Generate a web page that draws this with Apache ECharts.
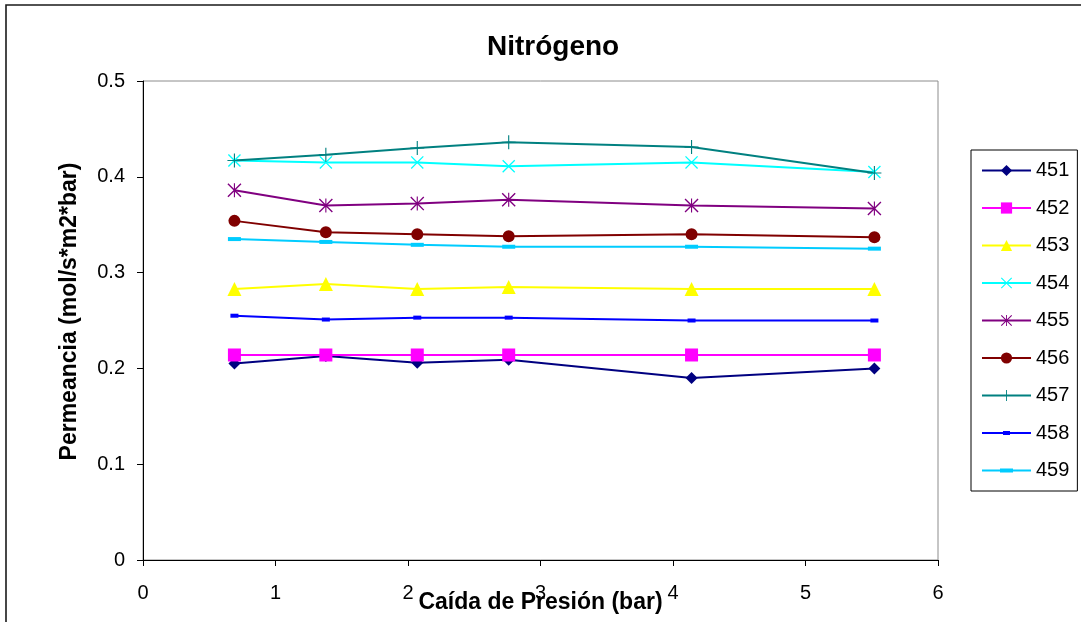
<!DOCTYPE html>
<html>
<head>
<meta charset="utf-8">
<title>Nitrógeno</title>
<script src="https://cdn.jsdelivr.net/npm/echarts@6/dist/echarts.min.js"></script>
<style>
  html, body { margin: 0; padding: 0; background: #fff; }
  #chart { width: 1081px; height: 622px; }
</style>
</head>
<body>
<div id="chart"></div>
<script>
// Pressure drop (bar) at which each membrane was measured
const pressureDrop = [0.69, 1.38, 2.07, 2.76, 4.14, 5.52];

// Nitrogen permeance per membrane, mol/(s·m2·bar)
const m451 = [0.205, 0.213, 0.206, 0.209, 0.190, 0.200];
const m452 = [0.214, 0.214, 0.214, 0.214, 0.214, 0.214];
const m453 = [0.283, 0.288, 0.283, 0.285, 0.283, 0.283];
const m454 = [0.417, 0.415, 0.415, 0.411, 0.415, 0.405];
const m455 = [0.386, 0.370, 0.372, 0.376, 0.370, 0.367];
const m456 = [0.354, 0.342, 0.340, 0.338, 0.340, 0.337];
const m457 = [0.417, 0.423, 0.430, 0.436, 0.431, 0.404];
const m458 = [0.255, 0.251, 0.253, 0.253, 0.250, 0.250];
const m459 = [0.335, 0.332, 0.329, 0.327, 0.327, 0.325];

const seriesNames = ['451', '452', '453', '454', '455', '456', '457', '458', '459'];
const yTicks = [0, 0.1, 0.2, 0.3, 0.4, 0.5];

// Marker outlines drawn as filled shapes so they render the same in the legend
const PLUS = 'path://M46,0 L54,0 L54,46 L100,46 L100,54 L54,54 L54,100 L46,100 L46,54 L0,54 L0,46 L46,46 Z';
const CROSS = 'path://M7,0 L50,43 L93,0 L100,7 L57,50 L100,93 L93,100 L50,57 L7,100 L0,93 L43,50 L0,7 Z';
const STAR = 'path://M7,0 L50,43 L93,0 L100,7 L57,50 L100,93 L93,100 L50,57 L7,100 L0,93 L43,50 L0,7 Z M46,0 L54,0 L54,100 L46,100 Z';
// Legend keys for the dash markers: a line with a thicker dash in its middle
const SHORT_DASH_KEY = 'path://M0,6 L49,6 L49,8 L0,8 Z M21,5 L28,5 L28,9 L21,9 Z';
const LONG_DASH_KEY = 'path://M0,6 L49,6 L49,8 L0,8 Z M18,5 L31,5 L31,9 L18,9 Z';

const styles = [
  { data: m451, color: '#000080', symbol: 'diamond', size: 12 },
  { data: m452, color: '#FF00FF', symbol: 'rect', size: 13 },
  { data: m453, color: '#FFFF00', symbol: 'triangle', size: 14 },
  { data: m454, color: '#00FFFF', symbol: CROSS, size: 13 },
  { data: m455, color: '#800080', symbol: STAR, size: 14 },
  { data: m456, color: '#800000', symbol: 'circle', size: 12 },
  { data: m457, color: '#008080', symbol: PLUS, size: 14 },
  { data: m458, color: '#0000FF', symbol: 'rect', size: [8, 4], key: SHORT_DASH_KEY },
  { data: m459, color: '#00CCFF', symbol: 'rect', size: [13, 4], key: LONG_DASH_KEY }
];

const FONT = '"Liberation Sans", Arial, Helvetica, sans-serif';

const series = styles.map((s, i) => ({
  name: seriesNames[i],
  type: 'line',
  data: pressureDrop.map((x, j) => [x, s.data[j]]),
  symbol: s.symbol,
  symbolSize: s.size,
  symbolKeepAspect: true,
  showAllSymbol: true,
  color: s.color,
  lineStyle: { color: s.color, width: 2 },
  itemStyle: { color: s.color },
  emphasis: { disabled: true },
  z: 2,
  zlevel: 0,
  animation: false
}));

const legendData = styles.map((s, i) =>
  s.key ? { name: seriesNames[i], icon: s.key } : { name: seriesNames[i] });

const chart = echarts.init(document.getElementById('chart'), null, { renderer: 'canvas' });
chart.setOption({
  backgroundColor: '#ffffff',
  animation: false,
  textStyle: { fontFamily: FONT },
  title: {
    text: 'Nitrógeno',
    left: 482,
    top: 28,
    textStyle: { fontFamily: FONT, fontSize: 28, fontWeight: 'bold', color: '#000' }
  },
  graphic: [{
    type: 'rect',
    shape: { x: 6, y: 5, width: 1200, height: 800 },
    style: { fill: 'none', stroke: '#1a1a1a', lineWidth: 1.6 },
    silent: true,
    z: 100
  }],
  grid: {
    left: 143, right: 143, top: 81, bottom: 62,
    outerBoundsMode: 'none',
    containLabel: false,
    show: true,
    borderColor: '#8c8c8c',
    borderWidth: 1,
    backgroundColor: '#ffffff'
  },
  legend: {
    orient: 'vertical',
    left: 971,
    top: 150,
    width: 106,
    padding: [10.5, 8, 10.5, 10],
    itemWidth: 49,
    itemHeight: 14,
    itemGap: 17.5,
    borderColor: '#000',
    borderWidth: 1,
    backgroundColor: '#fff',
    data: legendData,
    textStyle: { fontFamily: FONT, fontSize: 20, color: '#000', lineHeight: 20 },
    selectedMode: false
  },
  xAxis: {
    type: 'value',
    min: 0,
    max: 6,
    interval: 1,
    name: 'Caída de Presión (bar)',
    nameLocation: 'middle',
    nameGap: 31,
    nameMoveOverlap: false,
    nameTextStyle: { fontFamily: FONT, fontSize: 23, fontWeight: 'bold', color: '#000' },
    axisLine: { show: true, onZero: false, lineStyle: { color: '#000', width: 1 } },
    axisTick: { show: true, inside: false, length: 6, lineStyle: { color: '#000' } },
    axisLabel: { margin: 23, fontFamily: FONT, fontSize: 20, color: '#000' },
    splitLine: { show: false }
  },
  yAxis: {
    type: 'value',
    min: yTicks[0],
    max: yTicks[yTicks.length - 1],
    interval: 0.1,
    name: 'Permeancia (mol/s*m2*bar)',
    nameLocation: 'middle',
    nameGap: 62,
    nameRotate: 90,
    nameMoveOverlap: false,
    nameTextStyle: { fontFamily: FONT, fontSize: 23, fontWeight: 'bold', color: '#000', padding: [0, 0, 0, 18] },
    axisLine: { show: true, onZero: false, lineStyle: { color: '#000', width: 1 } },
    axisTick: { show: true, inside: false, length: 6, lineStyle: { color: '#000' } },
    axisLabel: { margin: 18, fontFamily: FONT, fontSize: 20, color: '#000',
      formatter: v => String(Math.round(v * 10) / 10) },
    splitLine: { show: false }
  },
  series: series
});
</script>
</body>
</html>
